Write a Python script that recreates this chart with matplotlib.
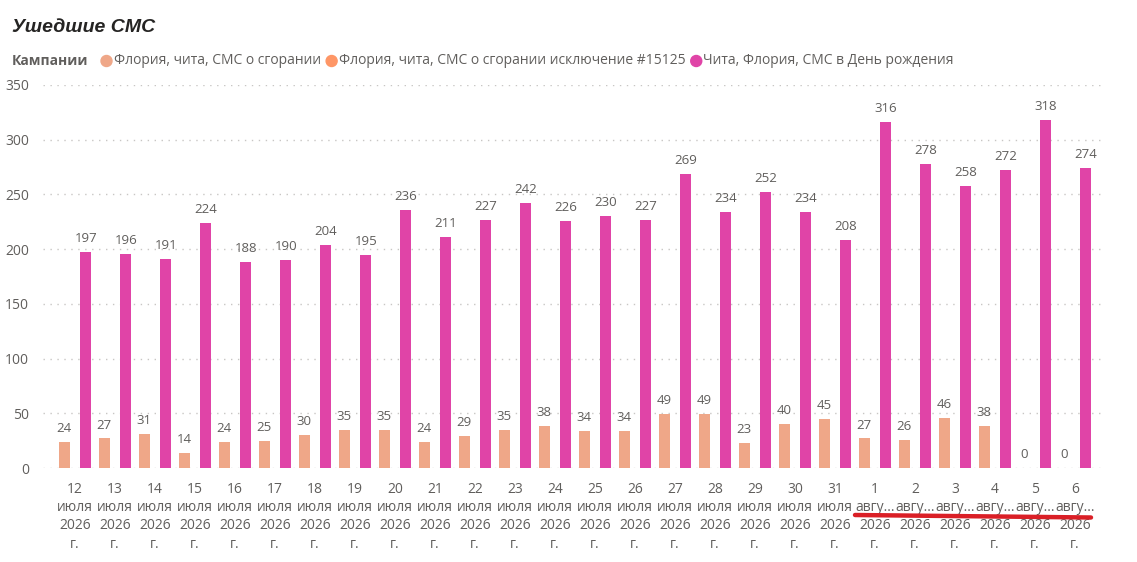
import matplotlib
matplotlib.use("Agg")
import matplotlib.pyplot as plt
from matplotlib.lines import Line2D
import numpy as np

days = ["12", "13", "14", "15", "16", "17", "18", "19", "20", "21", "22", "23", "24",
        "25", "26", "27", "28", "29", "30", "31", "1", "2", "3", "4", "5", "6"]
months = ["июля"] * 20 + ["авгу..."] * 6
tick_labels = [f"{d}\n{m}\n2026\nг." for d, m in zip(days, months)]

series_names = ["Флория, чита, СМС о сгорании",
                "Флория, чита, СМС о сгорании исключение #15125",
                "Чита, Флория, СМС в День рождения"]
series_colors = ["#EFA788", "#FE9666", "#E044A7"]

s1 = [24, 27, 31, 14, 24, 25, 30, 35, 35, 24, 29, 35, 38, 34, 34, 49, 49, 23, 40, 45,
      27, 26, 46, 38, 0, 0]
s2 = [None] * 26
s3 = [197, 196, 191, 224, 188, 190, 204, 195, 236, 211, 227, 242, 226, 230, 227, 269,
      234, 252, 234, 208, 316, 278, 258, 272, 318, 274]

plt.rcParams['font.family'] = ['Open Sans', 'DejaVu Sans']

W, H = 1137, 562
fig = plt.figure(figsize=(W / 100, H / 100), dpi=100)
ax = fig.add_axes([43 / W, (H - 468) / H, (1105 - 43) / W, (468 - 85) / H])

x = np.arange(len(days))
bw = 0.265
offs = [-0.267, 0.0, 0.267]
for vals, off, col in zip([s1, s2, s3], offs, series_colors):
    xs = [xi + off for xi, v in zip(x, vals) if v is not None]
    vs = [v for v in vals if v is not None]
    if not vs:
        continue
    bars = ax.bar(xs, vs, width=bw, color=col, zorder=3)
    for b, v in zip(bars, vs):
        ax.annotate(str(v), (b.get_x() + b.get_width() / 2, b.get_height()),
                    xytext=(0, 5), textcoords="offset points", ha="center", va="bottom",
                    fontsize=9.5, color="#605E5C")

ax.set_ylim(0, 350)
ax.set_xlim(-0.8, 25.75)
ax.set_yticks(range(0, 351, 50))
ax.yaxis.grid(True, linestyle=(0, (1, 4)), color="#C8C6C4", linewidth=1.0, zorder=0)
for s in ax.spines.values():
    s.set_visible(False)
ax.tick_params(axis="both", length=0, labelsize=10, labelcolor="#605E5C")
ax.tick_params(axis="y", pad=10)
ax.set_xticks(x)
ax.set_xticklabels(tick_labels, linespacing=1.3)
ax.tick_params(axis="x", pad=10)

# Title
fig.text(12 / W, 1 - 28 / H, "Ушедшие СМС", fontsize=14, fontweight="bold",
         fontstyle="italic", family="Liberation Sans", color="#252423", va="center")

# Legend
fig.canvas.draw()
r = fig.canvas.get_renderer()
ly = 1 - 61 / H
t = fig.text(12 / W, ly, "Кампании", fontsize=10, fontweight="bold", color="#605E5C",
             va="center")
xpos = t.get_window_extent(r).x1 + 13
for name, col in zip(series_names, series_colors):
    fig.patches.append(matplotlib.patches.Circle((xpos + 5, ly * H), 5.5, color=col,
                                                 transform=None, figure=fig))
    tt = fig.text((xpos + 12) / W, ly, name, fontsize=10, color="#605E5C", va="center")
    xpos = tt.get_window_extent(r).x1 + 6

# red hand-drawn underline
fig.add_artist(Line2D([855 / W, 1091 / W], [1 - 515 / H, 1 - 517.5 / H],
                      color="#DA1F26", linewidth=3.2, solid_capstyle="round"))

fig.savefig("out.png", dpi=100)
